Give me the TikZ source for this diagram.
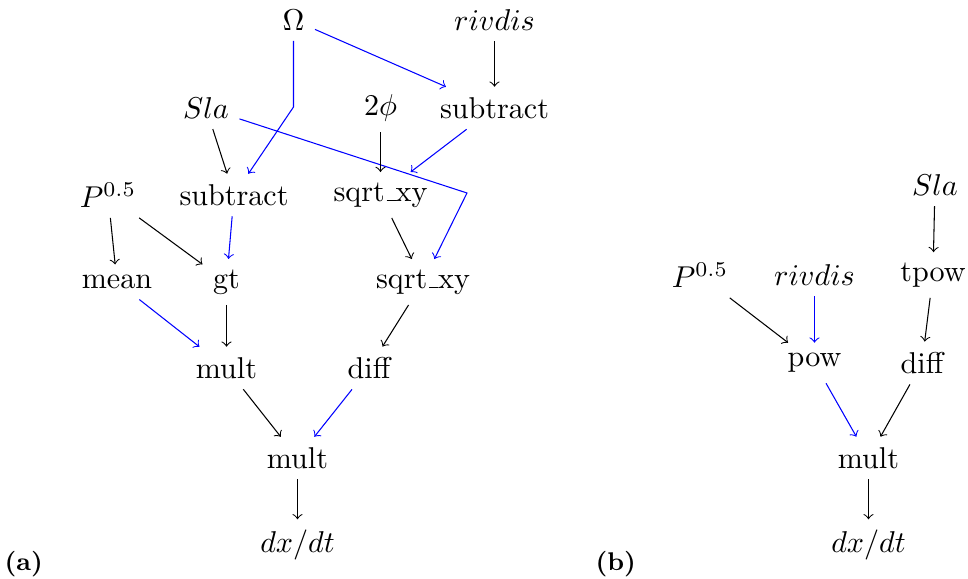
\documentclass[tikz,border=0pt]{standalone}
\usepackage{fontspec}
% classic rule-style underscore
\newcommand\usc{\leavevmode\kern.06em\vbox{\hrule width.3em}}
\begin{document}
\begin{tikzpicture}[x=0.3321pt,y=-0.3321pt,
  edge/.style={->, line width=0.35pt},
  bedge/.style={edge, blue},
  tag/.style={anchor=base west, inner sep=0pt, font=\normalfont\bfseries\fontsize{8.5}{10}\selectfont}]
\useasboundingbox (0,0) rectangle (968,579);

% ---- (a) ----
\node (om)   at (293.5,20)  {$\Omega$};
\node (riv)  at (494.5,20)  {$rivdis$};
\node (sla)  at (206,108)   {$Sla$};
\node (phi)  at (380.5,108) {$2\phi$};
\node (subR) at (494.5,108) {subtract};
\node (P)    at (108,195)   {$P^{0.5}$};
\node (subL) at (234,195)   {subtract};
\node (sq1)  at (380.5,195) {sqrt\usc xy};
\node (mean) at (117,282)   {mean};
\node (gt)   at (226.5,282) {gt};
\node (sq2)  at (423,282)   {sqrt\usc xy};
\node (mu1)  at (226.5,368) {mult};
\node (dif)  at (369,368)   {diff};
\node (mu2)  at (297.5,458) {mult};
\node (dxa)  at (297.5,545) {$dx/dt$};

\coordinate (bendA) at (293.5,107);
\coordinate (bendB) at (467,193);

\draw[bedge] (om) -- (subR);
\draw[bedge] (om) -- (bendA) -- (subL);
\draw[edge]  (riv) -- (subR);
\draw[edge]  (sla) -- (subL);
\draw[bedge] (sla) -- (bendB) -- (sq2);
\draw[edge]  (phi) -- (sq1);
\draw[bedge] (subR) -- (sq1);
\draw[edge]  (P) -- (mean);
\draw[edge]  (P) -- (gt);
\draw[bedge] (subL) -- (gt);
\draw[edge]  (sq1) -- (sq2);
\draw[edge]  (sq2) -- (dif);
\draw[bedge] (mean) -- (mu1);
\draw[edge]  (gt) -- (mu1);
\draw[edge]  (mu1) -- (mu2);
\draw[bedge] (dif) -- (mu2);
\draw[edge]  (mu2) -- (dxa);

\node[tag] (taga) at (4,571) {(a)};

% ---- (b) ----
\node (slab)  at (935,185)   {$Sla$};
\node (tpow)  at (933,275)   {tpow};
\node (Pb)    at (700,275)   {$P^{0.5}$};
\node (rivb)  at (814.5,275) {$rivdis$};
\node (pow)   at (814.5,363) {pow};
\node (difb)  at (922,363)   {diff};
\node (mub)   at (868.5,458) {mult};
\node (dxb)   at (868.5,545) {$dx/dt$};

\draw[edge]  (slab) -- (tpow);
\draw[edge]  (Pb) -- (pow);
\draw[bedge] (rivb) -- (pow);
\draw[edge]  (tpow) -- (difb);
\draw[bedge] (pow) -- (mub);
\draw[edge]  (difb) -- (mub);
\draw[edge]  (mub) -- (dxb);

\node[tag] (tagb) at (595,571) {(b)};
\end{tikzpicture}
\end{document}
